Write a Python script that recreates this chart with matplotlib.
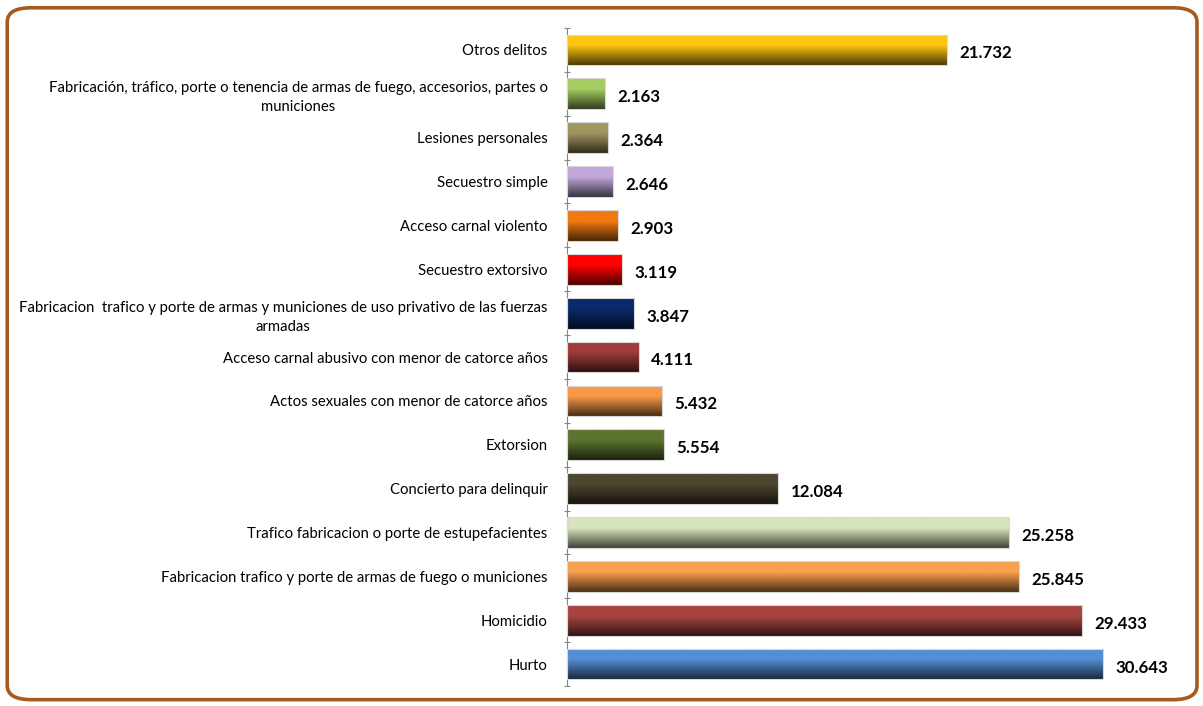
import numpy as np
import matplotlib.pyplot as plt
from matplotlib.colors import to_rgb
from matplotlib.patches import FancyBboxPatch

plt.rcParams['font.family'] = ['Lato', 'DejaVu Sans']

# bottom to top, as drawn
delitos = [
    "Hurto",
    "Homicidio",
    "Fabricacion trafico y porte de armas de fuego o municiones",
    "Trafico fabricacion o porte de estupefacientes",
    "Concierto para delinquir",
    "Extorsion",
    "Actos sexuales con menor de catorce años",
    "Acceso carnal abusivo con menor de catorce años",
    "Fabricacion  trafico y porte de armas y municiones de uso privativo de las fuerzas\narmadas",
    "Secuestro extorsivo",
    "Acceso carnal violento",
    "Secuestro simple",
    "Lesiones personales",
    "Fabricación, tráfico, porte o tenencia de armas de fuego, accesorios, partes o\nmuniciones",
    "Otros delitos",
]
casos = [30643, 29433, 25845, 25258, 12084, 5554, 5432, 4111, 3847, 3119,
         2903, 2646, 2364, 2163, 21732]
colores = ["#558ED5", "#A84341", "#F9A04E", "#D7E4BD", "#4D4630", "#5C742E",
           "#F99A48", "#A03C3A", "#0A2A6A", "#FF0000", "#F27A10", "#C0A9DA",
           "#A09660", "#A4CD62", "#FFC510"]

fig = plt.figure(figsize=(12.03, 7.06), dpi=100)
ax = fig.add_axes([0.4713, 0.0283, 0.509, 0.932])

# rounded frame around the chart
frame = FancyBboxPatch((0.006, 0.009), 0.989, 0.98,
                       boxstyle="round,pad=0,rounding_size=0.02",
                       transform=fig.transFigure, fill=False,
                       edgecolor="#A65A1E", linewidth=2.6, zorder=0)
fig.patches.append(frame)

y = np.arange(len(delitos))
h = 0.7
bars = ax.barh(y, casos, height=h, color="none", edgecolor="#d8d8d8",
               linewidth=0.8, zorder=3)

t = np.linspace(0, 1, 64)
fac = np.where(t < 0.35, 1.0, 1.0 - (t - 0.35) / 0.65 * 0.7)
for b, c, v, yy in zip(bars, colores, casos, y):
    base = np.array(to_rgb(c))
    grad = (base[None, :] * fac[:, None])[:, None, :]
    im = ax.imshow(grad, extent=(0, v, yy - h / 2, yy + h / 2), origin="upper",
                   aspect="auto", zorder=2, interpolation="bilinear")
    im.set_clip_path(b)
    ax.annotate(f"{v:,}".replace(",", "."), (v, yy), xytext=(9, -2.5),
                textcoords="offset points", ha="left", va="center",
                fontsize=12.2, fontweight="bold", color="black")

ax.set_xlim(0, 35000)
ax.set_ylim(-0.5, len(delitos) - 0.5)
ax.set_yticks(y)
ax.set_yticklabels(delitos, fontsize=10.7)
for lab in ax.get_yticklabels():
    lab.set_multialignment("center")
    lab.set_linespacing(1.45)
ax.set_yticks(np.arange(-0.5, len(delitos), 1), minor=True)
ax.tick_params(axis="y", which="major", length=0, pad=14)
ax.tick_params(axis="y", which="minor", length=5, direction="inout",
               color="#868686", width=0.8)
ax.set_xticks([])
for s in ["top", "right", "bottom"]:
    ax.spines[s].set_visible(False)
ax.spines["left"].set_color("#868686")
ax.spines["left"].set_linewidth(0.8)

fig.savefig("out.png", dpi=100)
